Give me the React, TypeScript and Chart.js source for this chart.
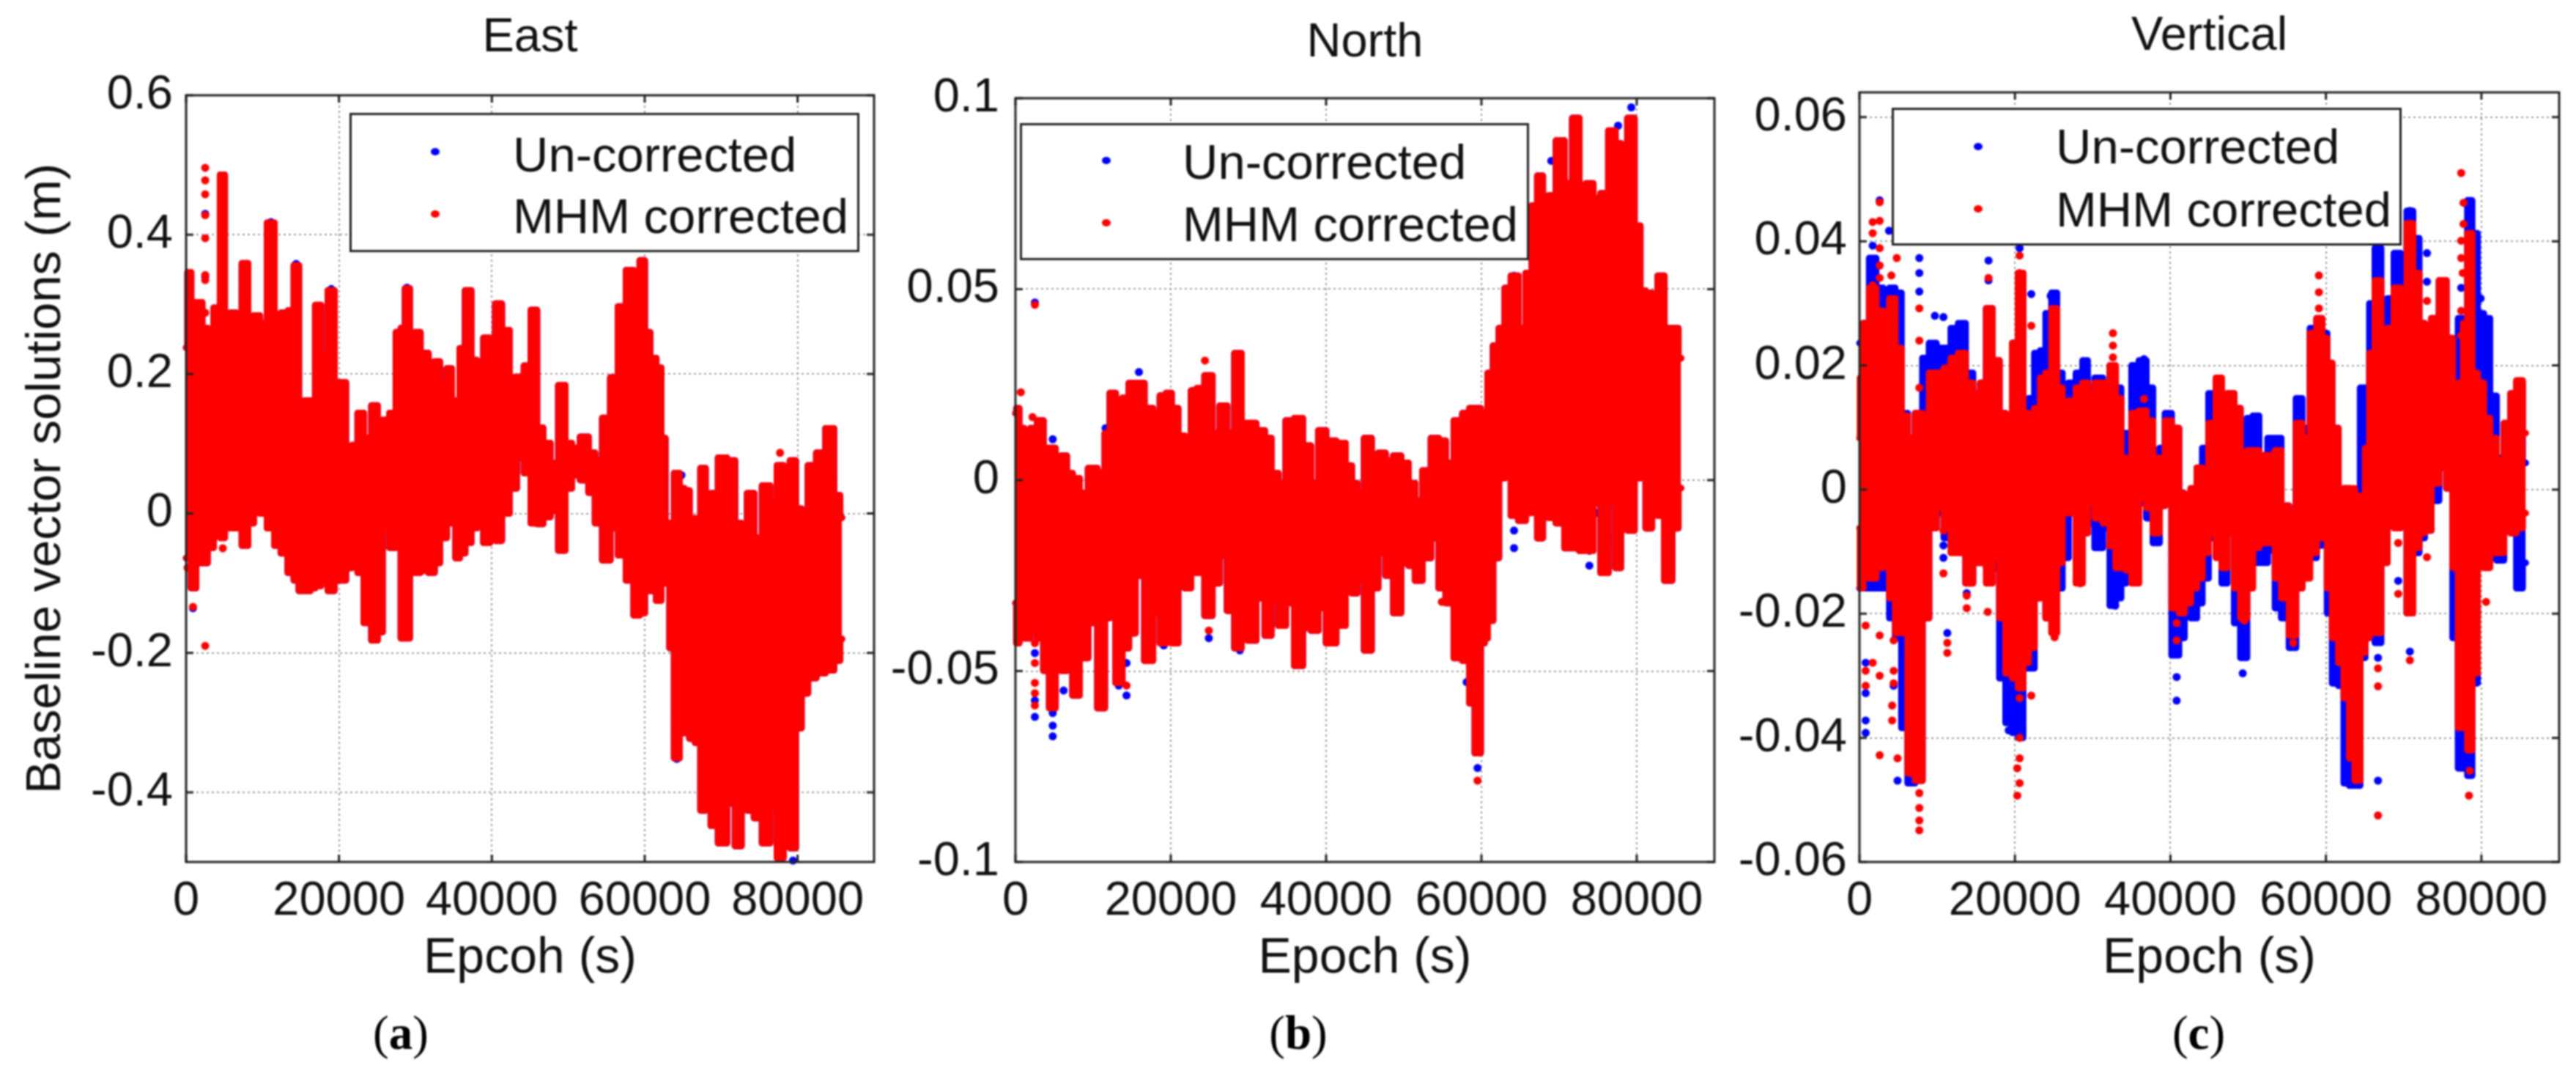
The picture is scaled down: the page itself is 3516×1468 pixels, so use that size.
import React, { useEffect, useRef } from "react";
import { Chart, registerables } from "chart.js";

Chart.register(...registerables);

const xTickValues = [0, 20000, 40000, 60000, 80000];
const eastTicks = [0.6, 0.4, 0.2, 0, -0.2, -0.4];
const northTicks = [0.1, 0.05, 0, -0.05, -0.1];
const verticalTicks = [0.06, 0.04, 0.02, 0, -0.02, -0.04, -0.06];
const legendLabels = ["Un-corrected", "MHM corrected"];

/* East: upper and lower limits of the dense band */
const eastX = [0,400,900,1700,2500,3100,4100,4800,5300,6200,6900,7700,8500,9200,10100,11100,12000,12800,13800,14400,15100,15900,16600,17200,18100,19000,19800,20500,21300,22100,22800,23700,24800,25300,26100,27100,27800,28400,28900,29600,30200,31100,32300,32700,33700,34500,35000,35500,36100,36900,37700,38400,39400,40100,40800,41800,42800,43700,44700,45500,46300,47100,48200,49200,50000,50900,52200,53100,53900,55000,56000,57000,58100,59000,59700,60300,61100,61900,62400,63000,63500,64200,64900,65500,66200,67000,67600,68300,69000,70200,71300,72300,73000,73800,74800,75900,76900,77700,78600,79400,80100,80900,81800,83100,84200,85300,85800];
const eastHi = [.238,.346,.252,.303,.266,.195,.295,.486,.252,.288,.202,.359,.237,.284,.273,.417,.266,.288,.291,.356,.108,.162,.130,.299,.230,.320,.188,.188,.087,.098,.144,.108,.155,.122,.134,.144,.260,.266,.323,.188,.260,.230,.202,.218,.188,.208,.122,.162,.237,.320,.220,.205,.252,.202,.301,.263,.195,.196,.212,.292,.123,.101,.072,.184,.101,.094,.110,.087,.076,.137,.195,.297,.349,.320,.363,.260,.223,.209,.108,-.014,-.057,.058,.036,.033,-.007,-.035,.065,0,.029,.080,.076,-.014,-.021,.029,-.035,.040,.019,.069,-.021,.076,.007,-.035,.069,.087,.122,.026,-.006];
const eastLo = [-.064,-.064,-.107,-.071,-.071,-.049,-.021,-.035,-.006,-.021,-.021,-.046,-.014,.015,0,-.021,-.046,-.057,-.085,-.096,-.111,-.111,-.107,-.104,-.096,-.111,-.096,-.096,-.078,-.064,-.085,-.157,-.182,-.170,-.021,-.049,-.035,-.179,-.179,-.078,-.085,-.082,-.085,-.071,-.035,0,-.014,-.064,-.057,-.042,-.021,.004,-.042,.008,-.039,0,.036,.080,.058,-.014,-.015,-.005,.004,-.053,.036,.055,.048,.030,-.014,-.067,-.021,-.060,-.096,-.146,-.143,-.111,-.111,-.125,-.100,-.100,-.193,-.351,-.315,-.229,-.323,-.329,-.426,-.287,-.448,-.473,-.416,-.477,-.329,-.426,-.437,-.473,-.423,-.494,-.401,-.480,-.308,-.258,-.236,-.229,-.225,-.211,-.180];
const eastRedDotX = [2500,2500,2500,2500,2500,2500,2500,2500,2500,200,900,900,77700,4800];
const eastRedDotY = [.496,.478,.458,.428,.395,.342,.335,.288,-.190,-.078,-.096,-.134,.087,-.05];
const eastBlueDotX = [2500,2500,900,900,4800,11100,14400,19000,28900,79400,64200,64800];
const eastBlueDotY = [.43,.34,-.136,-.1,.44,.418,.358,.322,.324,-.498,-.352,.055];

/* North */
const northX = [0,250,700,1500,2300,3300,3900,4800,5500,6200,7000,7700,8800,9900,11200,11800,12500,13300,14200,15000,15900,17300,18100,19100,19700,20500,21400,22200,23000,23800,24900,25800,26800,27700,28700,29500,30300,31700,32500,33400,34300,35300,36500,37500,38600,39400,40600,42000,43000,43600,44400,45400,46300,47100,48200,49100,50200,51000,51900,52900,54100,54900,55900,57000,58100,58800,59500,60300,60500,61100,61900,62600,63400,64200,65300,66100,66900,67500,68300,69000,70200,71200,72200,73000,73900,74900,75800,76900,77600,78300,79300,80100,80800,81500,82400,83000,84100,85000,85700];
const northHi = [.0175,.0188,.0136,.0097,.0136,.0156,.0084,.0084,.0051,.0064,.0018,.0005,-.0034,.0031,.0018,.0123,.0228,.0162,.0215,.0254,.0254,.0188,.0175,.0221,.0228,.0188,.0116,.0084,.0234,.0241,.0274,.0123,.0195,.0123,.0332,.0149,.0149,.013,.011,.0018,-.0008,.0156,.0162,.009,-.0008,.013,.0103,.0097,.0038,-.0008,-.0034,.011,-.0008,.0071,.0051,.0064,.0045,-.0008,-.0054,.0025,.011,.0103,.0045,.0156,.0175,.0188,.0188,.0175,.0169,.028,.0352,.0398,.0503,.0535,.0398,.0542,.0719,.0797,.0647,.0745,.0889,.0777,.0948,.0542,.0777,.0738,.0751,.0915,.0882,.0686,.0948,.0666,.0496,.049,.0476,.0535,.0398,.0398,.0319];
const northLo = [-.0322,-.0427,-.0401,-.0414,-.0394,-.0414,-.0499,-.0597,-.0348,-.0499,-.0414,-.0564,-.0466,-.0374,-.0597,-.0361,-.0348,-.0531,-.044,-.0401,-.025,-.0473,-.0348,-.0427,-.0348,-.0427,-.0204,-.0283,-.0243,-.0243,-.0355,-.027,-.0198,-.0342,-.044,-.0414,-.042,-.0309,-.0407,-.0309,-.0381,-.0322,-.0486,-.0387,-.0394,-.0335,-.0427,-.0381,-.0237,-.0296,-.0263,-.0446,-.0283,-.0191,-.025,-.0348,-.0217,-.0224,-.0263,-.0204,-.0152,-.0283,-.0322,-.0466,-.0473,-.0584,-.0715,-.0427,-.0414,-.0368,-.0204,.0005,.0018,-.0093,-.0106,-.0086,.0031,-.0152,-.0047,-.0099,-.0113,-.0178,-.0178,-.0185,-.0185,-.006,-.0243,-.006,-.023,-.0073,-.0132,.0005,.0018,-.0126,-.0047,-.0093,-.0263,-.0126,-.0021];
const northRedDotX = [2500,700,2200,2500,2500,2500,2500,2500,14300,24900,24400,22900,54900,59500];
const northRedDotY = [.0459,.023,.0165,-.0427,-.0479,-.0531,-.0558,-.059,-.0538,-.0394,.0313,.0234,-.0319,-.0787];
const northBlueDotX = [2500,2500,2500,2500,4800,4800,4800,6200,7700,13300,14300,14300,15900,19100,20400,24900,28900,12500,4800,11600,58100,58800,40700,45400,59500,59500,79300,77600,69000,64200,64200,73900,73900,75000,75800,77700,84100,72200,72200,76900,67500,64200];
const northBlueDotY = [.0465,-.0453,-.0577,-.062,-.061,-.0643,-.0671,-.0551,-.0551,-.0538,-.0564,-.0479,.0283,-.0433,-.0414,-.0414,-.0446,.0225,.0107,.0136,-.0529,-.0571,-.0423,-.0424,-.0754,-.0656,.0976,.0928,.0836,-.0178,-.0132,-.0224,-.0185,-.0086,-.0198,-.0228,-.0198,.0902,.0836,.0908,.0686,.0535];

/* Vertical */
const verticalX = [0,150,800,1700,2600,3500,4200,5000,5800,6600,7700,8500,9400,10400,11300,12200,13200,14100,15100,16000,16600,17600,18400,19200,20100,20700,21400,22100,22900,23600,24300,25100,25700,26500,27300,28400,29000,29700,30800,31800,32600,33300,34000,34600,35400,36500,37300,38200,39000,39600,40700,41500,42100,43100,43700,44500,45300,46400,46800,47800,48600,49400,50300,50900,51900,53100,53800,54700,55800,56500,57400,58500,59100,59900,60400,61200,62000,62600,63400,64000,64800,65300,65900,66700,67500,68300,69200,70000,70800,71600,72400,73000,74100,75000,76000,76600,77400,77900,78500,79100,79900,80700,81500,82400,83400,84100,84900,85700];
const verticalRedHi = [.0083,.018,.0268,.0325,.0288,.0131,.0308,.0228,.0119,.0083,.0123,.0051,.0188,.0188,.0196,.0212,.022,.0172,.0155,.0172,.0292,.0208,.0123,.0019,.0236,.0349,.0123,.0091,.0131,.018,.0188,.0292,.0164,.0139,.0143,.0164,.0172,.0155,.0172,.0172,.02,.0147,.0051,.0043,.0123,.0127,.0111,.0051,.0051,.0111,.0099,-.0006,-.003,.0002,.0035,.001,.0107,.018,.0147,.0155,.0131,.0043,.0063,.0063,.0055,.0055,.0063,-.0026,-.0038,.0107,.0083,.0252,.0276,.0244,.0204,.0099,-.0014,.0002,.0002,-.001,-.0022,.0067,.022,.0337,.0196,.026,.0325,.0317,.0429,.0349,.0268,.0264,.0276,.0337,.0244,.0147,.0172,.0268,.0413,.0188,.0172,.0115,.0083,.0047,.0107,.0155,.0176,.0091];
const verticalRedLo = [-.0062,-.0159,-.0118,-.0143,-.0126,-.011,-.0175,-.0231,-.0231,-.0457,-.0469,-.0207,-.0062,-.003,-.0062,-.0102,-.0102,-.0151,-.0118,-.0118,-.0151,-.011,-.0207,-.0296,-.0304,-.032,-.0279,-.0255,-.0175,-.011,-.0207,-.0231,-.0118,-.0038,-.0038,-.0151,-.007,-.0022,-.0046,-.0054,-.0086,-.0126,-.0126,-.013,-.0151,-.0014,-.003,-.007,-.0026,-.0022,-.0191,-.0199,-.0183,-.0159,-.0143,-.0102,-.007,-.011,-.0126,-.007,-.0159,-.0207,-.0159,-.0094,-.0086,-.0086,-.0143,-.0175,-.0235,-.0159,-.0143,-.0102,-.0078,-.003,-.0159,-.0239,-.0279,-.0336,-.0433,-.0469,-.0263,-.0239,-.0078,-.0231,-.0118,-.0038,-.0062,-.0022,-.0199,-.0094,-.007,-.0066,.001,.0035,.0002,-.0126,-.0384,-.0352,-.042,-.0296,-.0054,-.0126,-.0102,-.0102,-.0066,-.007,-.0062,-.0038];
const verticalBlueHi = [.0236,.0236,.0268,.0373,.0325,.018,.0325,.0317,.0123,.0083,.0123,.0212,.0236,.0228,.0228,.026,.0268,.0188,.0155,.0172,.0292,.0208,.0123,.0027,.0236,.0349,.0131,.0147,.022,.0224,.0284,.0317,.0188,.0147,.0172,.0188,.0208,.0164,.018,.0172,.02,.0164,.0091,.0091,.02,.0208,.0164,.0051,.0067,.0123,.0099,-.0006,-.0018,-.0018,.0035,.0067,.0155,.0172,.0147,.0155,.0131,.0043,.0115,.0119,.0055,.0083,.0083,-.0026,-.0038,.0147,.0099,.026,.0276,.0252,.0204,.0099,-.0014,.0002,-.0006,-.0014,.0164,.0164,.03,.0389,.0292,.0308,.0381,.0325,.0449,.0405,.0268,.0264,.0276,.0337,.0244,.0131,.0276,.0268,.0466,.0413,.0284,.0276,.0151,.0051,.0107,.0155,.0172,.0043];
const verticalBlueLo = [-.0159,-.0159,-.0159,-.0159,-.0159,-.0159,-.0207,-.0239,-.0384,-.0473,-.0469,-.0207,-.0062,-.0038,-.0078,-.0062,-.0062,-.0151,-.0118,-.0118,-.0126,-.0126,-.0304,-.0376,-.0392,-.04,-.0288,-.0288,-.0175,-.011,-.0207,-.0207,-.0159,-.011,-.0038,-.0143,-.007,-.0054,-.0094,-.0062,-.0187,-.0175,-.0151,-.0126,-.0147,-.0022,-.0046,-.0086,-.0026,-.0022,-.0267,-.0239,-.0199,-.0207,-.0183,-.0143,-.0078,-.0094,-.0151,-.007,-.0215,-.0271,-.0118,-.0118,-.0118,-.0098,-.0191,-.0207,-.0255,-.0159,-.0102,-.011,-.009,-.0038,-.0199,-.0312,-.0316,-.0473,-.0477,-.0477,-.0271,-.0239,-.0078,-.0247,-.0118,-.0038,-.0062,-.0022,-.0199,-.0102,-.0078,-.0066,-.0018,.0035,.0002,-.0239,-.0449,-.04,-.0461,-.0312,-.0054,-.0062,-.0102,-.0114,-.0066,-.007,-.0159,-.0118];
const verticalRedDotX = [2600,2600,1700,1700,2600,2600,2600,1700,4800,4100,7700,7700,7700,20600,20600,22100,16600,800,800,800,1700,2600,2600,2600,4900,4400,4400,4400,4200,4200,7700,7700,7700,7700,11300,11300,10800,10800,13800,13800,16500,22100,20600,20600,20600,20300,20600,20300,25100,25100,28400,32600,32600,32600,36600,40800,40800,57500,55800,55800,59100,59100,59100,32200,49500,77400,77700,77700,77400,77400,77600,77400,77400,66700,66700,66700,69300,69300,70800,73000,73000,80600,78500,78400,64000];
const verticalRedDotY = [.0463,.0433,.0431,.0413,.0389,.0361,.0341,.0329,.0373,.0345,.0292,.024,.0164,.0377,.0349,.0264,.0341,-.0219,-.0292,-.0316,-.0279,-.0235,-.03,-.0428,-.0433,-.0243,-.0292,-.0312,-.0348,-.0372,-.0489,-.0513,-.0533,-.0549,-.0247,-.0263,-.0066,-.0135,-.0171,-.0191,-.0197,-.0332,-.0336,-.04,-.0433,-.0449,-.0473,-.0493,-.0215,-.0238,-.0151,.0252,.0232,.0213,.0146,-.0215,-.0243,-.0136,-.0227,-.0247,.0345,.0318,.0292,-.009,-.0211,.051,.0462,.0428,.0401,.0373,.0349,.0288,.0248,-.0288,-.0317,-.0525,-.0086,-.0168,-.0275,.0304,-.0109,-.0181,-.0453,-.0493,-.0453];
const verticalBlueDotX = [2600,3800,7700,7700,7700,9700,10800,16600,16600,22100,24600,800,800,4900,19200,11300,10800,10800,13800,16500,20600,1700,1700,800,800,4400,36600,40800,40800,49300,38000,30800,32900,78600,70800,73000,73000,66700,66700,69300,70800,79900,77400,77400,78500,66700,66700,77400];
const verticalBlueDotY = [.0466,.0417,.0373,.0349,.0319,.028,.0278,.0369,.0337,.0315,.0312,-.0372,-.0392,-.0469,-.0388,-.0231,-.009,-.011,-.0167,-.0135,.0389,.0393,.0366,-.0279,-.0328,-.0316,.021,-.0302,-.034,-.0296,-.0082,-.009,-.0187,.0458,.0449,.0381,.0335,-.0469,-.0271,-.0147,-.0261,.0308,-.0447,-.0424,-.0458,.0373,.0333,.0325];

const BLUE = "#0000ff";
const RED = "#ff0000";
const FONT = "'Liberation Sans', Arial, sans-serif";
const FS = 65;

type Pt = { x: number; y: number };
const pts = (xs: number[], ys: number[]): Pt[] => xs.map((x, i) => ({ x, y: ys[i] }));

type Panel = {
  title: string;
  xTitle: string;
  yTitle?: string;
  ticks: number[];
  yMin: number;
  yMax: number;
  canvasLeft: number;
  canvasWidth: number;
  plotLeft: number;
  plotRight: number;
  plotTop: number;
  titleTopPad: number;
  tickPad: number;
  blueHi: Pt[];
  blueLo: Pt[];
  redHi: Pt[];
  redLo: Pt[];
  blueDots: Pt[];
  redDots: Pt[];
  legend: { l: number; t: number; r: number; b: number; dotX: number; dotY: [number, number]; textX: number; base: [number, number] };
  letter: string;
  letterX: number;
};

const panels: Panel[] = [
  {
    title: "East", xTitle: "Epcoh (s)", yTitle: "Baseline vector solutions (m)",
    ticks: eastTicks, yMin: -0.5, yMax: 0.6,
    canvasLeft: 0, canvasWidth: 1210, plotLeft: 254, plotRight: 1193, plotTop: 130, titleTopPad: 20, tickPad: 18,
    blueHi: pts(eastX, eastHi), blueLo: pts(eastX, eastLo), redHi: pts(eastX, eastHi), redLo: pts(eastX, eastLo),
    blueDots: pts(eastBlueDotX, eastBlueDotY), redDots: pts(eastRedDotX, eastRedDotY),
    legend: { l: 477, t: 154, r: 1173, b: 344, dotX: 594, dotY: [207, 292], textX: 700, base: [233, 317] },
    letter: "a", letterX: 547,
  },
  {
    title: "North", xTitle: "Epoch (s)",
    ticks: northTicks, yMin: -0.1, yMax: 0.1,
    canvasLeft: 1210, canvasWidth: 1150, plotLeft: 1386, plotRight: 2340, plotTop: 134, titleTopPad: 27, tickPad: 22,
    blueHi: pts(northX, northHi), blueLo: pts(northX, northLo), redHi: pts(northX, northHi), redLo: pts(northX, northLo),
    blueDots: pts(northBlueDotX, northBlueDotY), redDots: pts(northRedDotX, northRedDotY),
    legend: { l: 1392, t: 168, r: 2087, b: 355, dotX: 1510, dotY: [219, 304], textX: 1614, base: [243, 328] },
    letter: "b", letterX: 1772,
  },
  {
    title: "Vertical", xTitle: "Epoch (s)",
    ticks: verticalTicks, yMin: -0.06, yMax: 0.064,
    canvasLeft: 2360, canvasWidth: 1156, plotLeft: 2538, plotRight: 3493, plotTop: 126, titleTopPad: 18, tickPad: 17,
    blueHi: pts(verticalX, verticalBlueHi), blueLo: pts(verticalX, verticalBlueLo), redHi: pts(verticalX, verticalRedHi), redLo: pts(verticalX, verticalRedLo),
    blueDots: pts(verticalBlueDotX, verticalBlueDotY), redDots: pts(verticalRedDotX, verticalRedDotY),
    legend: { l: 2582, t: 147, r: 3278, b: 335, dotX: 2700, dotY: [200, 285], textX: 2806, base: [222, 308] },
    letter: "c", letterX: 3001,
  },
];

const PLOT_BOTTOM = 1176;
const H = 1468;

const frame = {
  id: "frame",
  afterDatasetsDraw(chart: any) {
    const { ctx, chartArea: a, scales } = chart;
    ctx.save();
    ctx.strokeStyle = "#222";
    ctx.lineWidth = 3;
    ctx.strokeRect(a.left, a.top, a.right - a.left, a.bottom - a.top);
    ctx.beginPath();
    scales.x.ticks.forEach((t: any) => {
      const p = scales.x.getPixelForValue(t.value);
      ctx.moveTo(p, a.bottom); ctx.lineTo(p, a.bottom - 10);
      ctx.moveTo(p, a.top); ctx.lineTo(p, a.top + 10);
    });
    scales.y.ticks.forEach((t: any) => {
      const p = scales.y.getPixelForValue(t.value);
      ctx.moveTo(a.left, p); ctx.lineTo(a.left + 10, p);
      ctx.moveTo(a.right, p); ctx.lineTo(a.right - 10, p);
    });
    ctx.stroke();
    ctx.restore();
  },
};

function PanelChart({ p }: { p: Panel }) {
  const ref = useRef<HTMLCanvasElement>(null);
  useEffect(() => {
    const edgeDs = (label: string, color: string, data: Pt[], fill: any) => ({
      label, data, showLine: true, borderColor: color, backgroundColor: color,
      borderWidth: 9, pointRadius: 0, stepped: "middle" as const, clip: false as const,
      borderJoinStyle: "round" as const, borderCapStyle: "round" as const, fill,
    });
    const dotDs = (label: string, color: string, data: Pt[]) => ({
      label, data, showLine: false, backgroundColor: color, borderColor: color,
      pointRadius: 5.5, pointBorderWidth: 0, clip: false as const,
    });
    const chart = new Chart(ref.current as HTMLCanvasElement, {
      type: "scatter",
      data: {
        // Chart.js paints the first dataset last, so the red series comes first.
        datasets: [
          dotDs(legendLabels[1], RED, p.redDots),
          edgeDs(legendLabels[1], RED, p.redHi, "+1"),
          edgeDs(legendLabels[1], RED, p.redLo, false),
          dotDs(legendLabels[0], BLUE, p.blueDots),
          edgeDs(legendLabels[0], BLUE, p.blueHi, "+1"),
          edgeDs(legendLabels[0], BLUE, p.blueLo, false),
        ],
      },
      options: {
        animation: false,
        responsive: false,
        devicePixelRatio: 1,
        layout: { padding: { right: p.canvasLeft + p.canvasWidth - p.plotRight } },
        plugins: {
          legend: { display: false },
          tooltip: { enabled: false },
          filler: { drawTime: "beforeDatasetDraw", propagate: false },
          title: {
            display: true, text: p.title, color: "#111", fullSize: false,
            font: { family: FONT, size: FS, weight: "normal", lineHeight: 1 },
            padding: { top: p.titleTopPad, bottom: p.plotTop - p.titleTopPad - FS },
          },
        },
        scales: {
          x: {
            type: "linear", min: 0, max: 90000,
            afterBuildTicks: (s: any) => { s.ticks = xTickValues.map((value) => ({ value })); },
            afterFit: (s: any) => { s.height = H - PLOT_BOTTOM; },
            grid: { color: "#9a9a9a", lineWidth: 2, drawTicks: false },
            border: { display: false, dash: [3, 4] },
            ticks: {
              color: "#111", padding: 15, maxRotation: 0, autoSkip: false,
              font: { family: FONT, size: FS },
              callback: (v: any) => String(v),
            },
            title: {
              display: true, text: p.xTitle, color: "#111",
              font: { family: FONT, size: 68, lineHeight: 1 },
              padding: { top: 0, bottom: 126 },
            },
          },
          y: {
            type: "linear", min: p.yMin, max: p.yMax,
            afterBuildTicks: (s: any) => { s.ticks = p.ticks.map((value) => ({ value })); },
            afterFit: (s: any) => { s.width = p.plotLeft - p.canvasLeft; },
            grid: { color: "#9a9a9a", lineWidth: 2, drawTicks: false },
            border: { display: false, dash: [3, 4] },
            ticks: {
              color: "#111", padding: p.tickPad, autoSkip: false,
              font: { family: FONT, size: FS },
              callback: (v: any) => String(v),
            },
            title: {
              display: !!p.yTitle, text: p.yTitle || "", color: "#111",
              font: { family: FONT, size: 67, lineHeight: 1 },
              padding: { top: 30, bottom: 0 },
            },
          },
        },
      } as any,
      plugins: [frame],
    });
    return () => chart.destroy();
  }, [p]);

  const lg = p.legend;
  const textStyle = (base: number): React.CSSProperties => ({
    position: "absolute", left: lg.textX, top: base - 55, font: `67px/65px ${FONT}`,
    color: "#111", whiteSpace: "nowrap",
  });
  const dotStyle = (y: number, color: string): React.CSSProperties => ({
    position: "absolute", left: lg.dotX - 6, top: y - 5, width: 12, height: 10,
    borderRadius: "50%", background: color,
  });
  return (
    <>
      <canvas
        ref={ref}
        width={p.canvasWidth}
        height={H}
        style={{ position: "absolute", left: p.canvasLeft, top: 0, width: p.canvasWidth, height: H }}
      />
      <div
        style={{
          position: "absolute", left: lg.l, top: lg.t, width: lg.r - lg.l, height: lg.b - lg.t,
          boxSizing: "border-box", background: "#fff", border: "3px solid #222",
        }}
      />
      <div style={dotStyle(lg.dotY[0], BLUE)} />
      <div style={dotStyle(lg.dotY[1], RED)} />
      <div style={textStyle(lg.base[0])}>{legendLabels[0]}</div>
      <div style={textStyle(lg.base[1])}>{legendLabels[1]}</div>
      <div
        style={{
          position: "absolute", left: p.letterX - 60, width: 120, top: 1372, textAlign: "center",
          font: `65px/75px 'Liberation Serif', serif`, color: "#000",
        }}
      >
        (<b>{p.letter}</b>)
      </div>
    </>
  );
}

export default function App() {
  return (
    <div
      style={{
        position: "absolute", left: 0, top: 0, width: 3516, height: H, overflow: "hidden",
        background: "#fff", filter: "blur(0.8px)",
      }}
    >
      {panels.map((p) => (
        <PanelChart key={p.title} p={p} />
      ))}
    </div>
  );
}
